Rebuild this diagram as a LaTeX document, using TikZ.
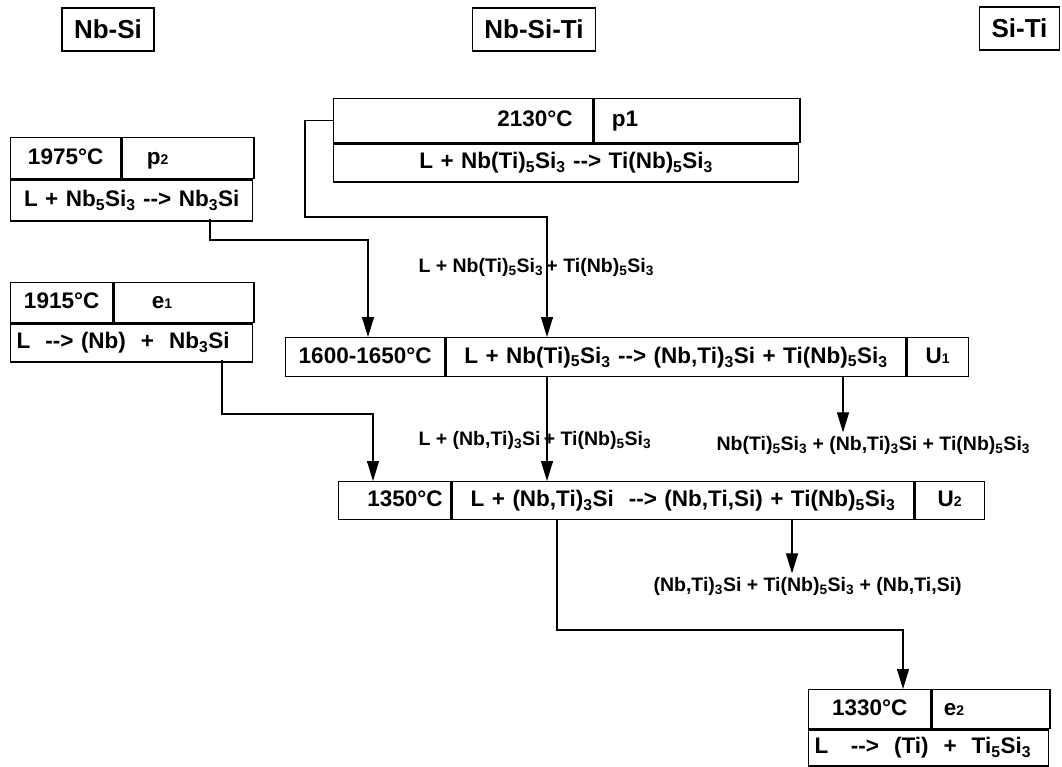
\documentclass[tikz,border=0pt]{standalone}
\usepackage{fontspec}
\setmainfont{Liberation Sans}
\usetikzlibrary{arrows.meta}

\newcommand{\sbs}[1]{\textsubscript{#1}}
\newcommand{\sml}[1]{{\fontsize{14}{14}\selectfont #1}}

\begin{document}
\begin{tikzpicture}[x=1pt,y=-1pt,
  font=\fontsize{22.5}{22.5}\selectfont\bfseries,
  cell/.style 2 args={draw, line width=1.3pt, inner sep=0pt, anchor=north west,
    text width=#1, minimum height=#2, text height=16pt, text depth=4pt, align=center},
  hdr/.style={draw, line width=1.3pt, inner xsep=12pt, minimum height=43pt,
    font=\fontsize{26}{26}\selectfont\bfseries},
  field/.style={font=\fontsize{19.5}{19.5}\selectfont\bfseries, anchor=west},
  flow/.style={line width=1.2pt, -{Triangle[length=20pt,width=12pt]}}]
\useasboundingbox (0,0) rectangle (1062,766);

% systems
\node[hdr] (nbsi) at (108,29.5) {Nb-Si};
\node[hdr] (nbsiti) at (534,29.5) {Nb-Si-Ti};
\node[hdr] (siti) at (1019.5,28.5) {Si-Ti};

% p1
\node[cell={259pt}{44pt}, align=right] (p1t) at (333,98) {2130°C\kern20pt};
\node[cell={206pt}{44pt}, align=left] (p1l) at (p1t.north east) {\hspace*{18pt}p1};
\node[cell={465pt}{38pt}] (p1r) at (p1t.south west)
  {L + Nb(Ti)\sbs{5}Si\sbs{3} -{}-> Ti(Nb)\sbs{5}Si\sbs{3}};

% p2
\node[cell={110pt}{41pt}] (p2t) at (10,137) {1975°C};
\node[cell={132pt}{41pt}, align=left] (p2l) at (p2t.north east) {\hspace*{25pt}p\sml{2}};
\node[cell={242pt}{41pt}] (p2r) at (p2t.south west)
  {L + Nb\sbs{5}Si\sbs{3} -{}-> Nb\sbs{3}Si};

% e1
\node[cell={102pt}{40pt}] (e1t) at (10,282) {1915°C};
\node[cell={140pt}{40pt}, align=left] (e1l) at (e1t.north east) {\hspace*{38pt}e\sml{1}};
\node[cell={242pt}{38pt}, align=left] (e1r) at (e1t.south west)
  {\hspace*{6pt}L~ -{}->~(Nb)~ +~ Nb\sbs{3}Si};

% U1
\node[cell={159pt}{39pt}] (u1t) at (285,337) {1600-1650°C};
\node[cell={460pt}{39pt}] (u1r) at (u1t.north east)
  {L + Nb(Ti)\sbs{5}Si\sbs{3} -{}-> (Nb,Ti)\sbs{3}Si + Ti(Nb)\sbs{5}Si\sbs{3}};
\node[cell={61pt}{39pt}] (u1l) at (u1r.north east) {U\sml{1}};

% U2
\node[cell={112pt}{38pt}, align=right] (u2t) at (338,481) {1350°C\kern8pt};
\node[cell={462pt}{38pt}] (u2r) at (u2t.north east)
  {L + (Nb,Ti)\sbs{3}Si~ -{}-> (Nb,Ti,Si) + Ti(Nb)\sbs{5}Si\sbs{3}};
\node[cell={69pt}{38pt}] (u2l) at (u2r.north east) {U\sml{2}};

% e2
\node[cell={122pt}{39pt}] (e2t) at (808,689) {1330°C};
\node[cell={118pt}{39pt}, align=left] (e2l) at (e2t.north east) {\hspace*{12pt}e\sml{2}};
\node[cell={240pt}{36pt}, align=left] (e2r) at (e2t.south west)
  {\hspace*{6pt}L~~ -{}->~ (Ti)~ +~ Ti\sbs{5}Si\sbs{3}};

% phase fields
\node[field] (f1) at (415,267) {L + Nb(Ti)\sbs{5}Si\sbs{3}\,+ Ti(Nb)\sbs{5}Si\sbs{3}};
\node[field] (f2) at (415,440) {L + (Nb,Ti)\sbs{3}Si\,+ Ti(Nb)\sbs{5}Si\sbs{3}};
\node[field] (f3) at (713,445) {Nb(Ti)\sbs{5}Si\sbs{3} + (Nb,Ti)\sbs{3}Si + Ti(Nb)\sbs{5}Si\sbs{3}};
\node[field] (f4) at (650,586) {(Nb,Ti)\sbs{3}Si + Ti(Nb)\sbs{5}Si\sbs{3} + (Nb,Ti,Si)};

% reaction paths
\coordinate (c1) at (305,217);
\coordinate (a1) at (547,337);
\coordinate (b0) at (210,219);
\coordinate (b1) at (368,240);
\coordinate (a2) at (368,337);
\coordinate (d0) at (222,360);
\coordinate (d1) at (373,414);
\coordinate (a3) at (373,481);
\draw[flow] (p1t.west) -| (c1) -| (a1);
\draw[flow] (b0) |- (b1) -- (a2);
\draw[flow] (d0) |- (d1) -- (a3);
\draw[flow] (u1r.south -| a1) -- (u2r.north -| a1);
\draw[flow] (843,376) -- (f3.north -| 843,0);
\draw[flow] (792,519) -- (f4.north -| 792,0);
\coordinate (g0) at (557,519);
\coordinate (g1) at (903,630);
\draw[flow] (g0) |- (g1) -- (e2t.north -| g1);
\end{tikzpicture}
\end{document}
